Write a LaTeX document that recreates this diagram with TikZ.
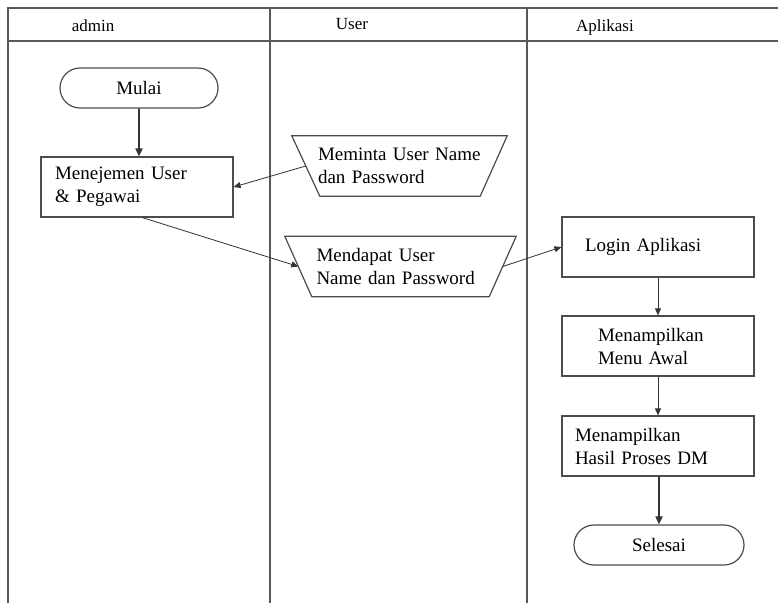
\documentclass[tikz,border=0pt]{standalone}
\usepackage{fontspec}
\setmainfont{Liberation Serif}
\usetikzlibrary{arrows.meta,calc,shapes.misc}
\begin{document}
\begin{tikzpicture}[x=1pt,y=-1pt,
  lane/.style={draw=black!65, line width=1.4pt},
  shapeline/.style={draw=black!70, line width=1.2pt},
  boxtxt/.style={font=\fontsize{19}{23}\selectfont, align=left},
  box/.style={shapeline, boxtxt, minimum width=192pt, minimum height=60pt,
    inner ysep=0pt, inner xsep=#1, text width=192pt-2*#1},
  trap/.style={boxtxt, minimum height=60pt, inner ysep=0pt},
  term/.style={shapeline, rounded rectangle, boxtxt, minimum height=40pt, inner sep=0pt},
  hdr/.style={font=\fontsize{17}{20}\selectfont},
  thin/.style={draw=black!80, line width=0.8pt, -{Triangle[width=6pt,length=7pt]}},
  thick/.style={draw=black!80, line width=1.8pt, -{Triangle[width=7pt,length=8pt]}}
]
\useasboundingbox (0,0) rectangle (778,603);
\fill[white] (0,0) rectangle (778,603);

% lanes
\draw[lane] (8,603) -- (8,8) -- (778,8);
\draw[lane] (8,41) -- (778,41);
\draw[lane] (270,8) -- (270,603);
\draw[lane] (527,8) -- (527,603);
\node[hdr] (hadmin) at (93,26) {admin};
\node[hdr] (huser) at (352,24) {User};
\node[hdr] (happ) at (605,27) {Aplikasi};

% admin lane
\node[term, minimum width=158pt] (mulai) at (139,88) {Mulai};
\node[box=14pt] (men) at (137,187) {Menejemen User\\\& Pegawai};

% user lane
\node[trap, minimum width=187pt, inner xsep=12pt, text width=163pt] (minta) at (399.5,166) {Meminta User Name\\dan Password};
\draw[shapeline] ($(minta.north west)+(-14,0)$) -- ($(minta.north east)+(14,0)$)
  -- ($(minta.south east)+(-13,0)$) -- ($(minta.south west)+(14,0)$) -- cycle;
\node[trap, minimum width=204pt, inner xsep=18pt, text width=168pt] (dapat) at (400.5,266.5) {Mendapat User\\Name dan Password};
\draw[shapeline] ($(dapat.north west)+(-13.5,0)$) -- ($(dapat.north east)+(13.5,0)$)
  -- ($(dapat.south east)+(-13.5,0)$) -- ($(dapat.south west)+(13.5,0)$) -- cycle;

% aplikasi lane
\node[box=23pt] (login) at (658,247) {Login Aplikasi};
\node[box=36pt] (menu) at (658,346) {Menampilkan\\Menu Awal};
\node[box=13pt] (hasil) at (658,446) {Menampilkan\\Hasil Proses DM};
\node[term, minimum width=170pt] (selesai) at (659,545) {Selesai};

% connectors
\draw[thick] (mulai) -- (mulai |- men.north);
\draw[thin] (minta.west) -- (men.east);
\draw[thin] (men.-80) -- (dapat.west);
\draw[thin] (dapat.east) -- (login.west);
\draw[thin] (login) -- (menu);
\draw[thin] (menu) -- (hasil);
\draw[thick] (hasil.south -| selesai) -- (selesai);
\end{tikzpicture}
\end{document}
